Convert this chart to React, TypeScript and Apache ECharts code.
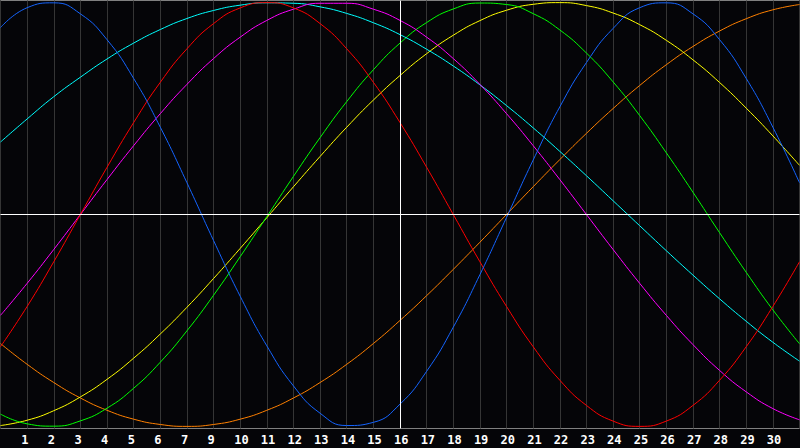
import { useEffect, useRef } from 'react'
import * as echarts from 'echarts'

// day positions along the chart (one grid line per day)
const DAYS = [0, 1, 2, 3, 4, 5, 6, 7, 8, 9, 10, 11, 12, 13, 14, 15, 16, 17, 18, 19, 20, 21, 22, 23, 24, 25, 26, 27, 28, 29, 30]

// labels printed under each grid line (8 is missing in the original)
const DAY_LABELS = ['', '1', '2', '3', '4', '5', '6', '7', '9', '10', '11', '12', '13', '14', '15', '16', '17', '18', '19', '20', '21', '22', '23', '24', '25', '26', '27', '28', '29', '30', '']

// curve values, -1 .. 1
const PHYSICAL = [0.882, 0.976, 0.999, 0.947, 0.825, 0.642, 0.412, 0.150, -0.123, -0.386, -0.620, -0.809, -0.938, -0.996, -0.981, -0.895, -0.740, -0.532, -0.284, -0.014, 0.257, 0.508, 0.717, 0.878, 0.976, 0.999, 0.947, 0.825, 0.642, 0.412, 0.150]
const EMOTIONAL = [-0.624, -0.434, -0.223, 0, 0.223, 0.434, 0.624, 0.782, 0.901, 0.975, 1, 0.975, 0.901, 0.782, 0.624, 0.434, 0.223, 0, -0.223, -0.434, -0.624, -0.782, -0.901, -0.975, -1, -0.975, -0.901, -0.782, -0.624, -0.434, -0.223]
const INTUITIVE = [-0.476, -0.325, -0.165, 0, 0.165, 0.325, 0.476, 0.614, 0.736, 0.837, 0.916, 0.969, 0.997, 0.997, 0.969, 0.916, 0.837, 0.736, 0.614, 0.476, 0.325, 0.165, 0, -0.165, -0.325, -0.476, -0.614, -0.736, -0.837, -0.916, -0.969]
const SPIRITUAL = [0.342, 0.451, 0.556, 0.648, 0.734, 0.809, 0.873, 0.925, 0.963, 0.988, 0.999, 0.997, 0.980, 0.949, 0.905, 0.849, 0.780, 0.701, 0.612, 0.514, 0.409, 0.298, 0.183, 0.065, -0.053, -0.171, -0.286, -0.398, -0.504, -0.603, -0.692]
const INTELLECTUAL = [-0.942, -0.988, -0.999, -0.974, -0.914, -0.820, -0.697, -0.549, -0.381, -0.199, -0.010, 0.180, 0.363, 0.533, 0.683, 0.809, 0.906, 0.970, 0.998, 0.991, 0.948, 0.871, 0.762, 0.626, 0.467, 0.291, 0.105, -0.086, -0.273, -0.450, -0.610]
const AESTHETIC = [-0.996, -0.971, -0.926, -0.861, -0.778, -0.678, -0.564, -0.438, -0.302, -0.160, -0.015, 0.131, 0.274, 0.412, 0.540, 0.656, 0.759, 0.846, 0.915, 0.964, 0.992, 1, 0.986, 0.951, 0.896, 0.822, 0.730, 0.623, 0.502, 0.371, 0.232]
const AWARENESS = [-0.609, -0.707, -0.793, -0.866, -0.924, -0.966, -0.991, -1, -0.991, -0.966, -0.924, -0.866, -0.793, -0.707, -0.609, -0.5, -0.383, -0.259, -0.131, 0, 0.131, 0.259, 0.383, 0.5, 0.609, 0.707, 0.793, 0.866, 0.924, 0.966, 0.991]

const BG = '#050508'
// the chart div starts this far left of the page so the labels can sit left of their lines
const SHIFT = 40

export default function App() {
  const chartRef = useRef<HTMLDivElement>(null)

  useEffect(() => {
    if (!chartRef.current) return
    const chart = echarts.init(chartRef.current, null, { renderer: 'svg' })

    const curve = (name: string, color: string, values: number[], extra: object = {}) => ({
      type: 'line',
      name,
      xAxisIndex: 0,
      yAxisIndex: 0,
      data: DAYS.map((d, i) => [d, values[i]]),
      smooth: true,
      showSymbol: false,
      symbol: 'none',
      silent: true,
      lineStyle: { color, width: 1 },
      itemStyle: { color },
      emphasis: { disabled: true },
      ...extra
    })

    chart.setOption({
      animation: false,
      backgroundColor: BG,
      grid: [
        {
          left: SHIFT + 0.5,
          right: 0.5,
          top: 0.5,
          bottom: 19.5,
          show: true,
          backgroundColor: BG,
          borderColor: '#808080',
          borderWidth: 1
        },
        // label-only grid, 6px to the left so labels start just before each line
        { left: SHIFT - 5.5, right: 6.5, top: 0.5, bottom: 19.5, show: false }
      ],
      xAxis: [
        {
          type: 'value',
          gridIndex: 0,
          min: 0,
          max: 30,
          interval: 1,
          axisLine: { show: false },
          axisTick: { show: false },
          axisLabel: { show: false },
          splitLine: { show: true, lineStyle: { color: '#353535', width: 1 } }
        },
        {
          type: 'value',
          gridIndex: 1,
          min: 0,
          max: 30,
          interval: 1,
          axisLine: { show: false },
          axisTick: { show: false },
          splitLine: { show: false },
          axisLabel: {
            show: true,
            align: 'left',
            margin: 5,
            color: '#ffffff',
            fontWeight: 'bold',
            fontFamily: 'DejaVu Sans Mono',
            fontSize: 12,
            formatter: (v: number) => DAY_LABELS[Math.round(v)] ?? ''
          }
        }
      ],
      yAxis: [
        {
          type: 'value',
          gridIndex: 0,
          min: -1.01,
          max: 1.01,
          show: false,
          splitLine: { show: false }
        },
        { type: 'value', gridIndex: 1, min: -1, max: 1, show: false }
      ],
      series: [
        curve('Awareness', '#ff8000', AWARENESS, {
          markLine: {
            silent: true,
            symbol: 'none',
            label: { show: false },
            lineStyle: { color: '#ffffff', width: 1, type: 'solid' },
            data: [{ yAxis: 0 }, { xAxis: 15 }]
          }
        }),
        curve('Aesthetic', '#ffff00', AESTHETIC),
        curve('Intellectual', '#00ff00', INTELLECTUAL),
        curve('Spiritual', '#00ffff', SPIRITUAL),
        curve('Intuitive', '#ff00ff', INTUITIVE),
        curve('Emotional', '#ff0000', EMOTIONAL),
        curve('Physical', '#1464ff', PHYSICAL)
      ]
    })

    return () => {
      chart.dispose()
    }
  }, [])

  return (
    <div style={{ position: 'fixed', left: 0, top: 0, width: 800, height: 448, overflow: 'hidden', background: BG }}>
      <div
        ref={chartRef}
        style={{ position: 'absolute', left: -SHIFT, top: 0, width: 800 + SHIFT, height: 448 }}
      />
    </div>
  )
}
